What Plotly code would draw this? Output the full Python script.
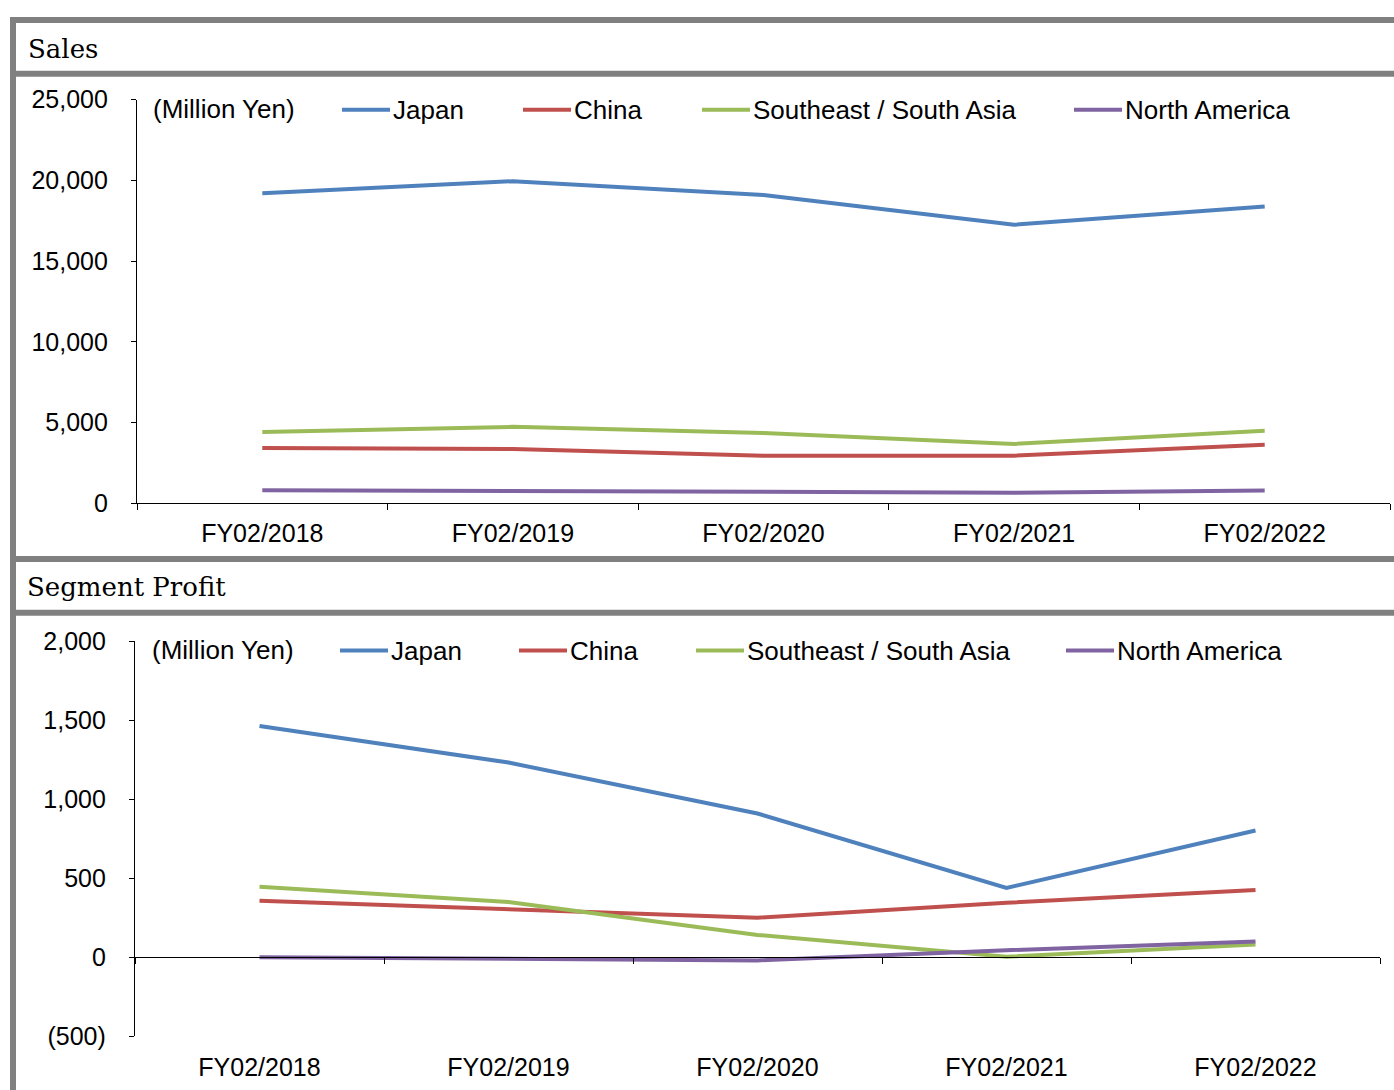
import plotly.graph_objects as go

# Fiscal years shown on both panels
years = ["FY02/2018", "FY02/2019", "FY02/2020", "FY02/2021", "FY02/2022"]

# Sales by region (million yen)
sales_japan = [19200, 19950, 19100, 17250, 18380]
sales_china = [3420, 3360, 2930, 2940, 3620]
sales_sea = [4410, 4730, 4350, 3670, 4490]
sales_na = [800, 770, 700, 640, 780]

# Segment profit by region (million yen)
profit_japan = [1463, 1232, 910, 439, 802]
profit_china = [358, 304, 251, 345, 426]
profit_sea = [446, 350, 142, 4, 82]
profit_na = [1, -8, -19, 45, 100]

region_names = ["Japan", "China", "Southeast / South Asia", "North America"]
region_colors = ["#4F81BD", "#C0504D", "#9BBB59", "#8064A2"]

W, H = 1394, 1090

# vertical placement: page rows are mapped onto the figure with a small
# top offset and a slight vertical squeeze
Y_OFF, Y_SCALE = 11.0, 0.978


def px(x):
    return x / W


def py(y):
    return 1 - ((y - Y_OFF) / Y_SCALE) / H


fig = go.Figure()

sales_series = [sales_japan, sales_china, sales_sea, sales_na]
profit_series = [profit_japan, profit_china, profit_sea, profit_na]

for name, color, vals in zip(region_names, region_colors, sales_series):
    fig.add_trace(go.Scatter(x=years, y=vals, mode="lines", name=name,
                             line=dict(color=color, width=4),
                             xaxis="x", yaxis="y", showlegend=False))

for name, color, vals in zip(region_names, region_colors, profit_series):
    fig.add_trace(go.Scatter(x=years, y=vals, mode="lines", name=name,
                             line=dict(color=color, width=4),
                             xaxis="x2", yaxis="y2", showlegend=False))

# empty trace so the zero-crossing axis of the profit panel is built
fig.add_trace(go.Scatter(x=[], y=[], xaxis="x3", yaxis="y2",
                         showlegend=False, hoverinfo="skip"))

tick_font = dict(family="Liberation Sans, Arial, sans-serif", size=25, color="#000000")
cat_font = dict(family="Liberation Sans, Arial, sans-serif", size=25, color="#000000")

n = len(years)
boundaries = [i - 0.5 for i in range(n + 1)]

fig.update_layout(
    width=W, height=H, autosize=False,
    margin=dict(l=0, r=0, t=0, b=0),
    paper_bgcolor="white", plot_bgcolor="white",
    showlegend=False,
    xaxis=dict(domain=[px(137), px(1390)], anchor="y", type="category",
               range=[-0.5, n - 0.5], tickson="boundaries", ticks="outside",
               ticklen=6, tickcolor="black", tickwidth=1.3,
               showline=True, linecolor="black", linewidth=1.3,
               showgrid=False, zeroline=False, tickfont=cat_font,
               ticklabelstandoff=8, fixedrange=True),
    yaxis=dict(domain=[py(502), py(97)], anchor="x", range=[0, 25000],
               tickvals=[0, 5000, 10000, 15000, 20000, 25000],
               ticktext=["0", "5,000", "10,000", "15,000", "20,000", "25,000"],
               ticks="outside", ticklen=5, tickcolor="black", tickwidth=1.3,
               showline=True, linecolor="black", linewidth=1.3,
               showgrid=False, zeroline=False, tickfont=tick_font,
               ticklabelstandoff=18, fixedrange=True),
    xaxis2=dict(domain=[px(135), px(1380)], anchor="y2", type="category",
                range=[-0.5, n - 0.5], ticks="", showline=False,
                showgrid=False, zeroline=False, tickfont=cat_font,
                ticklabelstandoff=14, fixedrange=True),
    xaxis3=dict(overlaying="x2", anchor="free",
                position=py(957.7), type="linear", range=[-0.5, n - 0.5],
                tickvals=boundaries, showticklabels=False,
                ticks="outside", ticklen=6, tickcolor="black", tickwidth=1.3,
                showline=True, linecolor="black", linewidth=1.3,
                showgrid=False, zeroline=False, fixedrange=True),
    yaxis2=dict(domain=[py(1037.3), py(640.5)], anchor="x2", range=[-500, 2000],
                tickvals=[-500, 0, 500, 1000, 1500, 2000],
                ticktext=["(500)", "0", "500", "1,000", "1,500", "2,000"],
                ticks="outside", ticklen=5, tickcolor="black", tickwidth=1.3,
                showline=True, linecolor="black", linewidth=1.3,
                showgrid=False, zeroline=False, tickfont=tick_font,
                ticklabelstandoff=18, fixedrange=True),
)

# grey panel frame
frame = "#808080"
bars = [
    (10, 14, W, 20),      # top edge
    (10, 14, 16, H + 30),  # left edge
    (10, 68, W, 74),      # under "Sales"
    (10, 555, W, 561),    # between panels
    (10, 609, W, 615),    # under "Segment Profit"
]
for x0, y0, x1, y1 in bars:
    fig.add_shape(type="rect", xref="paper", yref="paper",
                  x0=px(x0), x1=px(x1), y0=py(y1), y1=py(y0),
                  fillcolor=frame, line=dict(width=0), layer="above")

title_font = dict(family="DejaVu Serif, serif", size=26, color="#000000")
fig.add_annotation(text="Sales", xref="paper", yref="paper", x=px(26), y=py(46),
                   xanchor="left", yanchor="middle", showarrow=False, font=title_font)
fig.add_annotation(text="Segment Profit", xref="paper", yref="paper", x=px(25), y=py(586),
                   xanchor="left", yanchor="middle", showarrow=False, font=title_font)

# unit labels and legend rows for each panel
legend_font = dict(family="Liberation Sans, Arial, sans-serif", size=26, color="#000000")
legend_rows = [
    (107, 151, [342, 523, 702, 1074]),
    (650, 150, [340, 519, 696, 1066]),
]
for yc, unit_x, swatch_x in legend_rows:
    fig.add_annotation(text="(Million Yen)", xref="paper", yref="paper",
                       x=px(unit_x), y=py(yc - 1), xanchor="left", yanchor="middle",
                       showarrow=False, font=legend_font)
    for name, color, sx in zip(region_names, region_colors, swatch_x):
        fig.add_shape(type="line", xref="paper", yref="paper",
                      x0=px(sx), x1=px(sx + 48), y0=py(yc), y1=py(yc),
                      line=dict(color=color, width=4))
        fig.add_annotation(text=name, xref="paper", yref="paper",
                           x=px(sx + 49), y=py(yc), xanchor="left", yanchor="middle",
                           showarrow=False, font=legend_font)

fig.write_html("out.html")
